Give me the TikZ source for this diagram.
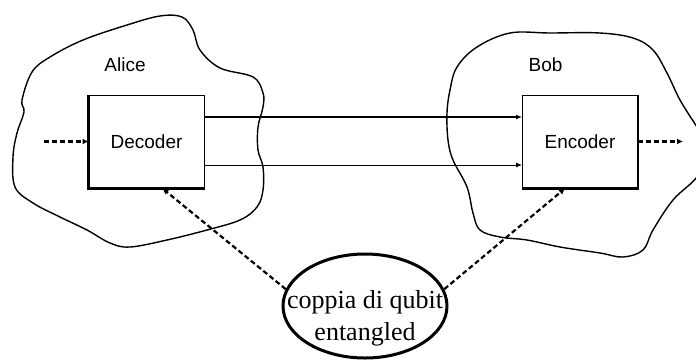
\documentclass[tikz,border=0pt]{standalone}
\usepackage{fontspec}
\setmainfont{Liberation Serif}
\setsansfont{Liberation Sans}
\usetikzlibrary{arrows.meta,shapes.geometric}
\begin{document}
\begin{tikzpicture}[x=1pt,y=-1pt,
  box/.style={draw,line width=1pt,rectangle,minimum width=115pt,minimum height=93pt,inner sep=0pt,font=\sffamily\fontsize{19}{22}\selectfont},
  lbl/.style={font=\sffamily\fontsize{19}{22}\selectfont,inner sep=0pt},
  cloud/.style={line width=1.4pt},
  dasharrow/.style={line width=2.2pt,dash pattern=on 5pt off 3pt,-{Latex[length=6pt,width=6pt]}},
  solidarrow/.style={-{Latex[length=6pt,width=5pt]}},
  pairnode/.style={draw,ellipse,line width=3pt,minimum width=164pt,minimum height=104pt,inner sep=0pt,font=\rmfamily\fontsize{26}{32}\selectfont}]
\useasboundingbox (0,0) rectangle (696,360);
\clip (0,0) rectangle (696,360);
% clouds
\draw[cloud] plot[smooth cycle, tension=0.6] coordinates {
 (22,100) (32,72) (50,57) (83,40) (127,25) (160,16) (182,17) (193,30) (200,50) (220,68)
 (253,77) (263,93) (263,107) (258,127) (258,150) (263,167) (263,190) (257,207) (240,220)
 (207,230) (167,240) (130,247) (110,243) (87,230) (60,217) (33,203) (15,187) (13,157)
 (17,133) (24,112)};
\draw[cloud] plot[smooth cycle, tension=0.6] coordinates {
 (457,67) (477,47) (510,33) (550,33) (600,33) (633,38) (653,50) (667,73) (680,100)
 (697,127) (712,150) (697,177) (673,200) (653,230) (643,250) (623,257) (600,253) (560,247)
 (527,240) (500,237) (480,230) (473,213) (467,187) (453,160) (448,140) (447,113) (450,90)};
% labels
\node[lbl] (alice) at (125,65) {Alice};
\node[lbl] (bob) at (545.5,65) {Bob};
% boxes
\node[box] (dec) at (146.5,141.5) {Decoder};
\node[box] (enc) at (580,141.5) {\raisebox{-4.5pt}{Encoder}};
\draw[line width=2.2pt] (dec.north west) -- (dec.south west) -- (dec.south east);
\draw[line width=2.2pt] (enc.south west) -- (enc.south east) -- (enc.north east);
% entangled pair
\node[pairnode] (pair) at (365,306) {\makebox[0pt]{\smash{\raisebox{-34pt}{\begin{tabular}[b]{@{}c@{}}coppia di qubit\\entangled\end{tabular}}}}};
% connectors
\draw[solidarrow,line width=1.7pt] ([yshift=24.5pt]dec.east) -- ([yshift=24.5pt]enc.west);
\draw[solidarrow,line width=0.9pt] ([yshift=-23.5pt]dec.east) -- ([yshift=-23.5pt]enc.west);
\coordinate (in) at (44,141.5);
\coordinate (out) at (683,141.5);
\draw[dasharrow] (in) -- (dec.west);
\draw[dasharrow] (enc.east) -- (out);
\draw[dasharrow] (pair.168) -- ([xshift=16pt]dec.south);
\draw[dasharrow] (pair.12) -- ([xshift=-15pt]enc.south);
\end{tikzpicture}
\end{document}
